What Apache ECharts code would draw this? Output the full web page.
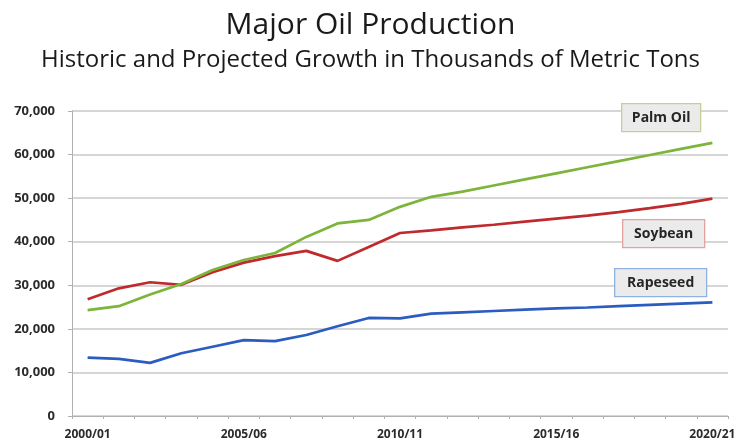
<!DOCTYPE html>
<html>
<head>
<meta charset="utf-8">
<script src="https://cdn.jsdelivr.net/npm/echarts@6/dist/echarts.min.js"></script>
<style>
  html, body { margin: 0; padding: 0; background: #ffffff; }
  #chart { width: 741px; height: 448px; }
</style>
</head>
<body>
<div id="chart"></div>
<script>
// Marketing years, 2000/01 through 2020/21
const years = [
  '2000/01', '2001/02', '2002/03', '2003/04', '2004/05', '2005/06', '2006/07',
  '2007/08', '2008/09', '2009/10', '2010/11', '2011/12', '2012/13', '2013/14',
  '2014/15', '2015/16', '2016/17', '2017/18', '2018/19', '2019/20', '2020/21'
];

// Production, thousands of metric tons
const palmOil = [
  24300, 25200, 27900, 30300, 33500, 35800, 37400, 41100, 44200, 45000, 48000,
  50300, 51500, 52900, 54300, 55700, 57100, 58500, 59900, 61300, 62700
];
const soybean = [
  26800, 29300, 30700, 30100, 33000, 35200, 36700, 37900, 35600, 38800, 42000,
  42600, 43300, 43900, 44600, 45300, 46000, 46800, 47700, 48700, 49900
];
const rapeseed = [
  13400, 13100, 12200, 14400, 15900, 17400, 17200, 18600, 20600, 22500, 22400,
  23500, 23800, 24100, 24400, 24700, 24900, 25200, 25500, 25800, 26100
];

const FONT = '"Open Sans", Lato, sans-serif';

const chart = echarts.init(document.getElementById('chart'), null, { renderer: 'canvas' });

// Boxed series name placed beside its line
function tag(text, left, top, width, border) {
  return {
    type: 'group',
    left: left,
    top: top,
    z: 100,
    children: [
      {
        type: 'rect',
        z: 100,
        shape: { x: 0, y: 0, width: width, height: 28 },
        style: { fill: '#ebebeb', stroke: border, lineWidth: 1.3 }
      },
      {
        type: 'text',
        z: 101,
        x: width / 2,
        y: 14,
        style: {
          text: text,
          fill: '#262626',
          font: 'bold 14px ' + FONT,
          align: 'center',
          verticalAlign: 'middle'
        }
      }
    ]
  };
}

chart.setOption({
  backgroundColor: '#ffffff',
  animation: false,
  title: [
    {
      text: 'Major Oil Production',
      left: 'center',
      top: 5,
      textStyle: { fontFamily: FONT, fontSize: 30, fontWeight: 'normal', color: '#1a1a1a' }
    },
    {
      text: 'Historic and Projected Growth in Thousands of Metric Tons',
      left: 'center',
      top: 43,
      textStyle: { fontFamily: FONT, fontSize: 24, fontWeight: 'normal', color: '#1a1a1a' }
    }
  ],
  grid: { left: 72, right: 13, top: 111, bottom: 32, outerBoundsMode: 'none' },
  xAxis: {
    type: 'category',
    data: years,
    boundaryGap: true,
    axisLine: { lineStyle: { color: '#b0b0b0', width: 1 } },
    axisTick: { show: true, interval: 0, length: 3, lineStyle: { color: '#b0b0b0' } },
    axisLabel: {
      interval: 4,
      margin: 13,
      fontFamily: FONT,
      fontSize: 12,
      fontWeight: 'bold',
      color: '#2b2b2b'
    },
    splitLine: { show: false }
  },
  yAxis: {
    type: 'value',
    min: 0,
    max: 70000,
    interval: 10000,
    axisLine: { show: true, lineStyle: { color: '#b0b0b0', width: 1 } },
    axisTick: { show: true, length: 4, lineStyle: { color: '#b0b0b0' } },
    axisLabel: {
      margin: 17,
      fontFamily: FONT,
      fontSize: 13,
      fontWeight: 'bold',
      color: '#2b2b2b',
      formatter: v => v.toLocaleString('en-US')
    },
    splitLine: { show: true, lineStyle: { color: '#c8c8c8', width: 1.5 } }
  },
  series: [
    {
      name: 'Palm Oil',
      type: 'line',
      data: palmOil,
      symbol: 'none',
      lineStyle: { color: '#7db43a', width: 2.7 },
      z: 3
    },
    {
      name: 'Soybean',
      type: 'line',
      data: soybean,
      symbol: 'none',
      lineStyle: { color: '#bf2a2e', width: 2.7 },
      z: 2
    },
    {
      name: 'Rapeseed',
      type: 'line',
      data: rapeseed,
      symbol: 'none',
      lineStyle: { color: '#2b5cbf', width: 2.7 },
      z: 2
    }
  ],
  graphic: [
    tag('Palm Oil', 621, 103, 79, '#c3cf96'),
    tag('Soybean', 622, 219, 82, '#e2a29f'),
    tag('Rapeseed', 614, 268, 92, '#8fb2de')
  ]
});
</script>
</body>
</html>
